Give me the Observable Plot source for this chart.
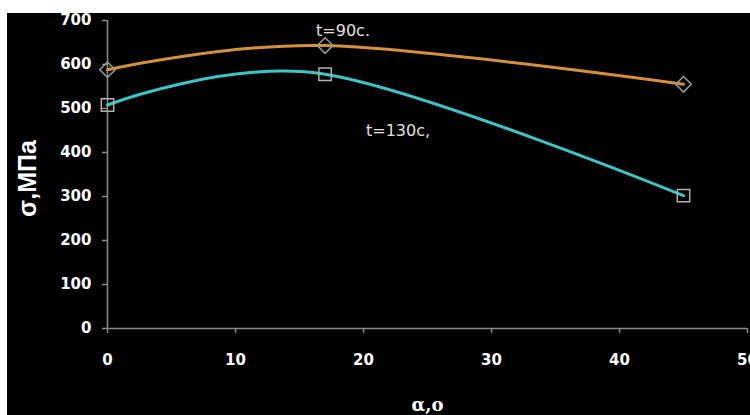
<!DOCTYPE html>
<html><head><meta charset="utf-8">
<script src="https://cdn.jsdelivr.net/npm/d3@7"></script>
<script src="https://cdn.jsdelivr.net/npm/@observablehq/plot@0.6"></script>
<style>
html,body{margin:0;padding:0;background:#fff;}
#wrap{position:absolute;left:7px;top:13px;width:743px;height:402px;background:#000;overflow:hidden;}
</style>
</head><body>
<div id="wrap"></div>
<script>
const angles = [0, 17, 45];
const s90 = [588, 643, 555];
const s130 = [508, 578, 302];
const xTicks = [0, 10, 20, 30, 40, 50];
const yTicks = [0, 100, 200, 300, 400, 500, 600, 700];
const seriesLabels = ["t=90c.", "t=130c,"];
const labelX = [18.4, 22.7];
const labelY = [677, 450];

const d90 = angles.map((a, i) => ({x: a, y: s90[i]}));
const d130 = angles.map((a, i) => ({x: a, y: s130[i]}));
const labels = seriesLabels.map((t, i) => ({t, x: labelX[i], y: labelY[i]}));

const chart = Plot.plot({
  width: 743,
  height: 402,
  marginLeft: 100,
  marginRight: 3,
  marginTop: 7,
  marginBottom: 87,
  style: {background: "#000", color: "#fff", fontFamily: "DejaVu Sans", fontWeight: "bold", fontSize: "15px", overflow: "visible"},
  x: {domain: [0, 50]},
  y: {domain: [0, 700]},
  marks: [
    Plot.ruleX([0], {stroke: "#8a8a8a", strokeWidth: 1.5}),
    Plot.ruleY([0], {stroke: "#8a8a8a", strokeWidth: 1.5}),
    Plot.axisX({ticks: xTicks, tickSize: 5, tickPadding: 21, stroke: "#8a8a8a", strokeWidth: 1.5, fill: "#fff", label: null, fontSize: 15, fontWeight: "bold"}),
    Plot.axisY({ticks: yTicks, tickSize: 5, tickPadding: 11, stroke: "#8a8a8a", strokeWidth: 1.5, fill: "#fff", label: null, fontSize: 15, fontWeight: "bold"}),
    Plot.line(d90, {x: "x", y: "y", curve: "cardinal", stroke: "#d4903c", strokeWidth: 3}),
    Plot.line(d130, {x: "x", y: "y", curve: "cardinal", stroke: "#3ec4c4", strokeWidth: 3}),
    Plot.dot(d90, {x: "x", y: "y", symbol: "diamond2", r: 7, stroke: "#9a9a9a", strokeWidth: 1.5, fill: "none"}),
    Plot.dot(d130, {x: "x", y: "y", symbol: "square", r: 7, stroke: "#b0b0b0", strokeWidth: 1.5, fill: "none"}),
    Plot.text(labels, {x: "x", y: "y", text: "t", fill: "#e0e0e0", fontWeight: "normal", fontFamily: "DejaVu Sans", fontSize: 16, textAnchor: "middle"}),
    Plot.text(["σ,МПа"], {frameAnchor: "left", textAnchor: "middle", dx: -80, dy: 4, rotate: -90, fontSize: 25, fontWeight: "bold", fill: "#fff", fontFamily: "Liberation Sans"}),
    Plot.text(["α,о"], {frameAnchor: "bottom", dy: 82, fontSize: 18, fontWeight: "bold", fill: "#fff", fontFamily: "DejaVu Serif"})
  ]
});
document.getElementById("wrap").appendChild(chart);
</script>
</body></html>
